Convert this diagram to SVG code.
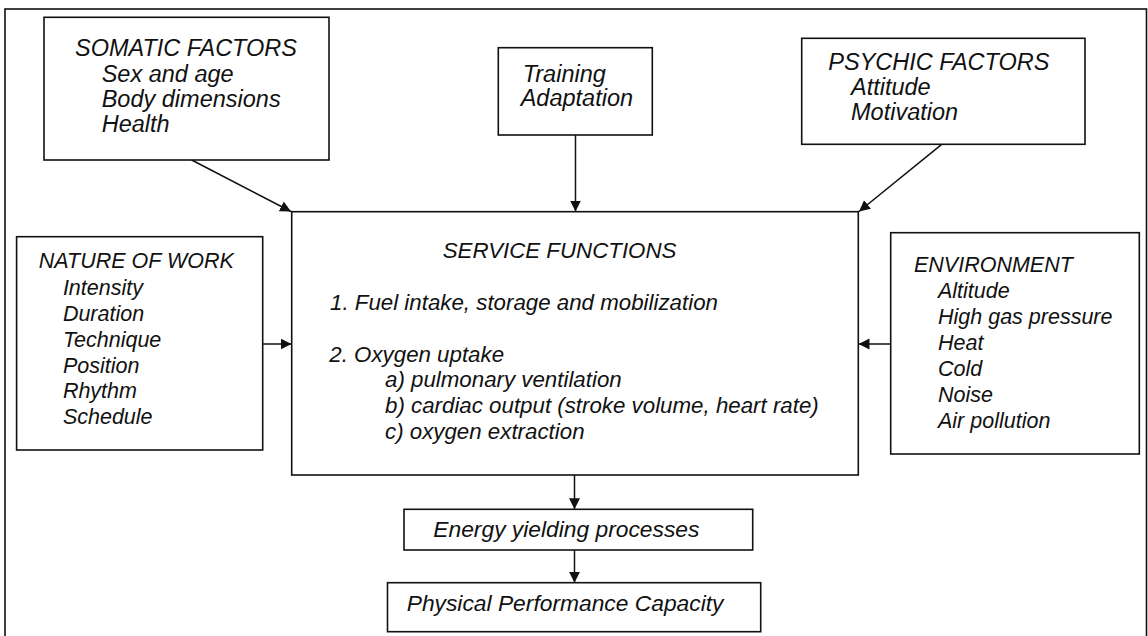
<svg xmlns="http://www.w3.org/2000/svg" width="1148" height="636" viewBox="0 0 1148 636">
<style>
  .box { fill: #fff; stroke: #111; stroke-width: 1.6; }
  .frame { fill: none; stroke: #111; stroke-width: 1.6; }
  .t { font-family: "Liberation Sans", Arial, sans-serif; font-style: italic; fill: #111; }
  .top { font-size: 23.5px; }
  .side { font-size: 21.5px; }
  .svc { font-size: 22.3px; }
  .bot { font-size: 22.8px; }
  .conn { fill: none; stroke: #111; stroke-width: 1.5; }
</style>
<defs>
  <marker id="arrow" markerUnits="userSpaceOnUse" markerWidth="12" markerHeight="12" refX="11" refY="5.5" orient="auto">
    <path d="M0,0 L11,5.5 L0,11 Z" fill="#111"/>
  </marker>
</defs>
<rect width="1148" height="636" fill="#fff"/>
<rect class="frame" x="5" y="9" width="1141.5" height="640"/>

<g id="connectors">
  <line class="conn" x1="191.7" y1="160" x2="291" y2="211.5" marker-end="url(#arrow)"/>
  <line class="conn" x1="575.5" y1="135" x2="575.5" y2="211.5" marker-end="url(#arrow)"/>
  <line class="conn" x1="941.7" y1="144.3" x2="859" y2="211.5" marker-end="url(#arrow)"/>
  <line class="conn" x1="262.7" y1="344" x2="291.5" y2="344" marker-end="url(#arrow)"/>
  <line class="conn" x1="890.7" y1="344" x2="858.5" y2="344" marker-end="url(#arrow)"/>
  <line class="conn" x1="574.5" y1="475" x2="574.5" y2="509.3" marker-end="url(#arrow)"/>
  <line class="conn" x1="574.5" y1="550" x2="574.5" y2="582.7" marker-end="url(#arrow)"/>
</g>

<g id="somatic">
  <rect class="box" x="44" y="17.3" width="285" height="142.7"/>
  <text class="t top" x="75" y="56">SOMATIC FACTORS</text>
  <text class="t top" x="101.7" y="82">Sex and age</text>
  <text class="t top" x="101.7" y="107">Body dimensions</text>
  <text class="t top" x="101.7" y="132">Health</text>
</g>

<g id="training">
  <rect class="box" x="498.3" y="47.7" width="154" height="87.3"/>
  <text class="t top" x="522.7" y="81.7">Training</text>
  <text class="t top" x="520.7" y="106">Adaptation</text>
</g>

<g id="psychic">
  <rect class="box" x="801.7" y="38.3" width="283.3" height="106"/>
  <text class="t top" x="828.3" y="70">PSYCHIC FACTORS</text>
  <text class="t top" x="851" y="95">Attitude</text>
  <text class="t top" x="851" y="120">Motivation</text>
</g>

<g id="nature">
  <rect class="box" x="16.6" y="236.7" width="246.1" height="213.3"/>
  <text class="t side" x="38.8" y="268.3">NATURE OF WORK</text>
  <text class="t side" x="62.9" y="295">Intensity</text>
  <text class="t side" x="62.9" y="320.7">Duration</text>
  <text class="t side" x="62.9" y="346.7">Technique</text>
  <text class="t side" x="62.9" y="372.7">Position</text>
  <text class="t side" x="62.9" y="398.3">Rhythm</text>
  <text class="t side" x="62.9" y="424">Schedule</text>
</g>

<g id="service">
  <rect class="box" x="291.7" y="211.7" width="566.6" height="263.3"/>
  <text class="t svc" x="442.7" y="258.3">SERVICE FUNCTIONS</text>
  <text class="t svc" x="330" y="310">1. Fuel intake, storage and mobilization</text>
  <text class="t svc" x="329.3" y="361.7">2. Oxygen uptake</text>
  <text class="t svc" x="385" y="387.3">a) pulmonary ventilation</text>
  <text class="t svc" x="385" y="413.3">b) cardiac output (stroke volume, heart rate)</text>
  <text class="t svc" x="385" y="439.3">c) oxygen extraction</text>
</g>

<g id="environment">
  <rect class="box" x="890.7" y="232.7" width="248.6" height="221.3"/>
  <text class="t side" x="914" y="271.7">ENVIRONMENT</text>
  <text class="t side" x="938" y="297.7">Altitude</text>
  <text class="t side" x="938" y="324">High gas pressure</text>
  <text class="t side" x="938" y="350">Heat</text>
  <text class="t side" x="938" y="375.7">Cold</text>
  <text class="t side" x="938" y="401.7">Noise</text>
  <text class="t side" x="938" y="427.7">Air pollution</text>
</g>

<g id="energy">
  <rect class="box" x="404" y="509.3" width="348.7" height="40.7"/>
  <text class="t bot" x="433.3" y="537">Energy yielding processes</text>
</g>

<g id="capacity">
  <rect class="box" x="387.5" y="582.7" width="373.2" height="49"/>
  <text class="t bot" x="406.7" y="611">Physical Performance Capacity</text>
</g>
</svg>
